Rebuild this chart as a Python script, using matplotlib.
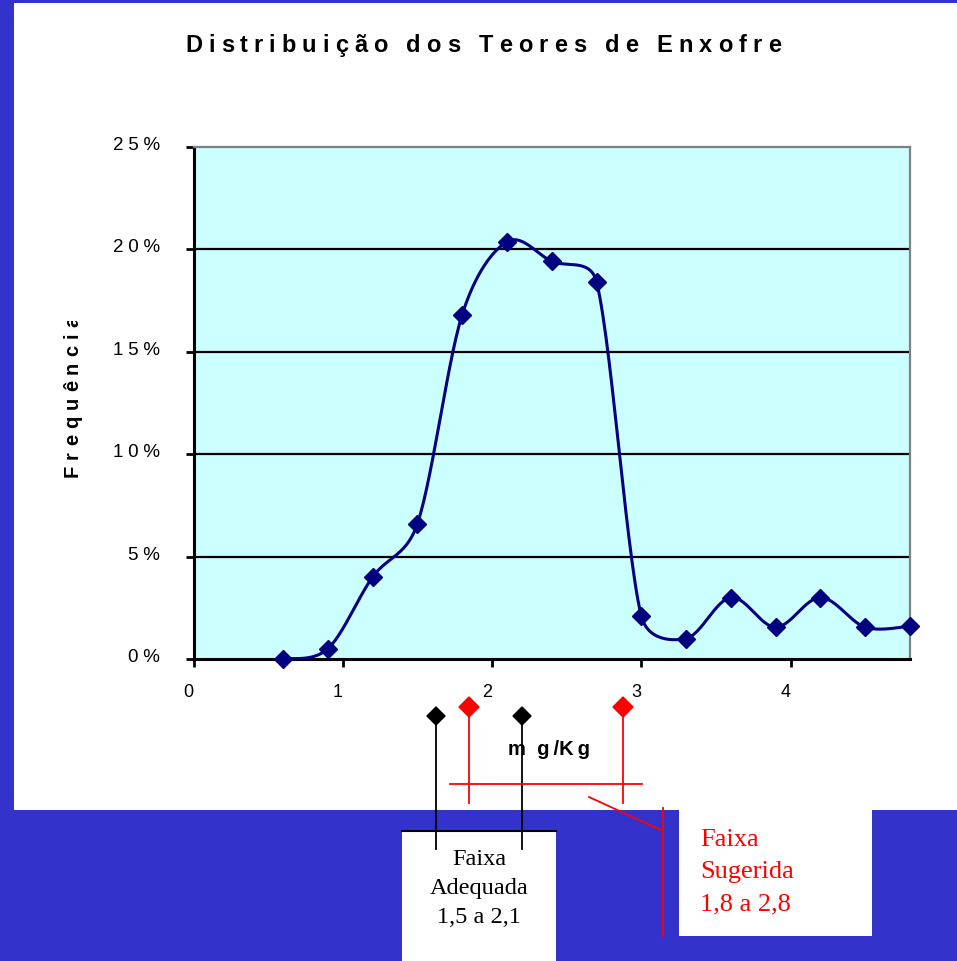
import numpy as np
import matplotlib
matplotlib.use("Agg")
import matplotlib.pyplot as plt
from matplotlib.patches import Rectangle, Polygon
from matplotlib.transforms import ScaledTranslation, Bbox, TransformedBbox
from matplotlib.font_manager import FontProperties, findfont
from matplotlib.ft2font import FT2Font

plt.rcParams['font.family'] = ['Liberation Sans', 'DejaVu Sans']

# data
teor = [0.6, 0.9, 1.2, 1.5, 1.8, 2.1, 2.4, 2.7, 3.0, 3.3, 3.6, 3.9, 4.2, 4.5, 4.8]
freq = [0.0, 0.5, 4.0, 6.6, 16.8, 20.35, 19.4, 18.4, 2.1, 1.0, 3.0, 1.55, 3.0, 1.55, 1.6]
yticks = [0, 5, 10, 15, 20, 25]
ytick_labels = ["0\u2005%", "5\u2005%", "1\u20050\u2005%", "1\u20055\u2005%", "2\u20050\u2005%", "2\u20055\u2005%"]
xticks = [0, 1, 2, 3, 4]
titulo = "Distribuição dos Teores de Enxofre"
rotulo_y = "Frequência"
faixa_adequada = ["Faixa", "Adequada", "1,5 a 2,1"]
faixa_sugerida = ["Faixa", "Sugerida", "1,8 a 2,8"]

BLUE = '#3333CC'
NAVY = '#000080'
RED = '#FF0000'
W, H = 957, 962
PX_X = (910 - 193.5) / 4.8   # pixels per unit on x
PX_Y = (660 - 147.5) / 25    # pixels per % on y


def advances(s, size_pt, weight='bold'):
    # advance widths in pixels (dpi 100)
    f = FT2Font(findfont(FontProperties(family='Liberation Sans', weight=weight)))
    f.set_size(size_pt, 100)
    return [f.load_char(ord(c)).linearHoriAdvance / 65536 for c in s]


def spaced_text(ax, x0, y0, s, size_pt, gap, vertical=False, **kw):
    # letter-spaced text, drawn one char at a time
    pos = 0.0
    out = []
    for c, adv in zip(s, advances(s, size_pt)):
        if vertical:
            t = ax.text(x0, y0 - pos, c, rotation=90, rotation_mode='anchor', ha='left',
                        va='baseline', fontsize=size_pt, fontweight='bold', **kw)
        else:
            t = ax.text(x0 + pos, y0, c, ha='left', va='baseline',
                        fontsize=size_pt, fontweight='bold', **kw)
        out.append(t)
        pos += adv + gap
    return out


def smooth(x, y, n=30):
    # Excel style smoothed line, worked out in pixel space
    p = np.column_stack([np.array(x) * PX_X, np.array(y) * PX_Y])
    p = np.vstack([p[0], p, p[-1]])
    out = []
    t = np.linspace(0, 1, n)[:, None]
    for i in range(1, len(p) - 2):
        p0, p1, p2, p3 = p[i - 1], p[i], p[i + 1], p[i + 2]
        seg_len = np.hypot(*(p2 - p1))
        v1 = p2 - p0
        v2 = p3 - p1
        l1 = min(np.hypot(*v1) / 6, seg_len / 2)
        l2 = min(np.hypot(*v2) / 6, seg_len / 2)
        c1 = p1 + v1 / max(np.hypot(*v1), 1e-9) * l1
        c2 = p2 - v2 / max(np.hypot(*v2), 1e-9) * l2
        seg = ((1 - t) ** 3) * p1 + 3 * ((1 - t) ** 2) * t * c1 + 3 * (1 - t) * t ** 2 * c2 + t ** 3 * p2
        out.append(seg)
    out = np.vstack(out)
    return out[:, 0] / PX_X, out[:, 1] / PX_Y


fig = plt.figure(figsize=(W / 100, H / 100), dpi=100, facecolor=BLUE)

# slide layer in pixel coords
bg = fig.add_axes([0, 0, 1, 1])
bg.set_xlim(0, W)
bg.set_ylim(H, 0)
bg.axis('off')
bg.add_patch(Rectangle((14, 4), W - 14, 807, color='white', lw=0))
bg.add_patch(Rectangle((402, 832), 154, 140, color='white', lw=0))
bg.plot([402, 556], [832, 832], color='black', lw=1.5)
bg.add_patch(Rectangle((679, 811), 193, 126, color='white', lw=0))

# range markers
for xp in [436, 522]:
    bg.plot([xp, xp], [717, 850], color='black', lw=1.3)
    bg.add_patch(Polygon([[xp, 708], [xp + 9, 717], [xp, 726], [xp - 9, 717]], color='black'))
for xp in [469, 623]:
    bg.plot([xp, xp], [708, 804], color=RED, lw=1.3)
    bg.add_patch(Polygon([[xp, 698], [xp + 10, 708], [xp, 718], [xp - 10, 708]], color=RED))
bg.plot([450, 642], [785, 785], color=RED, lw=1.3)
bg.plot([589, 663], [798, 832], color=RED, lw=1.3)
bg.plot([663, 663], [809, 937], color=RED, lw=1.3)

for i, linha in enumerate(faixa_adequada):
    bg.text(479, 865 + 29 * i, linha, ha='center', va='baseline',
            family='Liberation Serif', fontsize=17.5, color='black')
for i, linha in enumerate(faixa_sugerida):
    bg.text(700, 846 + 32 * i, linha, ha='left', va='baseline',
            family='Liberation Serif', fontsize=19, color=RED)
bg.text(549, 755, "m  g\u2009/K\u2009g", ha='center', va='baseline', fontsize=14.5, fontweight='bold')

spaced_text(bg, 185, 52, titulo, 17, 6.0)
clip = TransformedBbox(Bbox.from_extents(0, 0, 1, (H - 322) / H), fig.transFigure)
for t in spaced_text(bg, 78, 477, rotulo_y, 14.5, 6.0, vertical=True):
    t.set_clip_box(clip)
    t.set_clip_on(True)

# chart
ax = fig.add_axes([193.5 / W, (H - 660) / H, (910 - 193.5) / W, (660 - 147.5) / H])
ax.set_facecolor('#CCFFFF')
sx, sy = smooth(teor, freq)
ax.plot(sx, sy, color=NAVY, lw=2.2, zorder=3, clip_on=False)
ax.plot(teor, freq, ls='none', marker='D', ms=9.5, color=NAVY, zorder=4, clip_on=False)
ax.set_xlim(0, 4.8)
ax.set_ylim(0, 25)
ax.set_yticks(yticks)
ax.set_yticklabels(ytick_labels)
ax.set_xticks(xticks)
ax.set_xticklabels([str(v) for v in xticks])
for v in yticks[1:-1]:
    ax.axhline(v, color='black', lw=1.6, zorder=1)
ax.spines['left'].set_linewidth(2.2)
ax.spines['bottom'].set_linewidth(2.2)
ax.spines['top'].set_color('#808080')
ax.spines['right'].set_color('#808080')
ax.spines['top'].set_linewidth(1.6)
ax.spines['right'].set_linewidth(1.6)
ax.tick_params(axis='both', direction='out', length=6, width=2)
ax.tick_params(axis='y', pad=18, labelsize=13.5)
ax.tick_params(axis='x', pad=11, labelsize=13)
for lab in ax.get_yticklabels():
    lab.set_transform(lab.get_transform() + ScaledTranslation(0, 4 / 100, fig.dpi_scale_trans))
for lab in ax.get_xticklabels():
    lab.set_transform(lab.get_transform() + ScaledTranslation(-5 / 100, 0, fig.dpi_scale_trans))

fig.savefig("out.png", dpi=100, facecolor=fig.get_facecolor())
